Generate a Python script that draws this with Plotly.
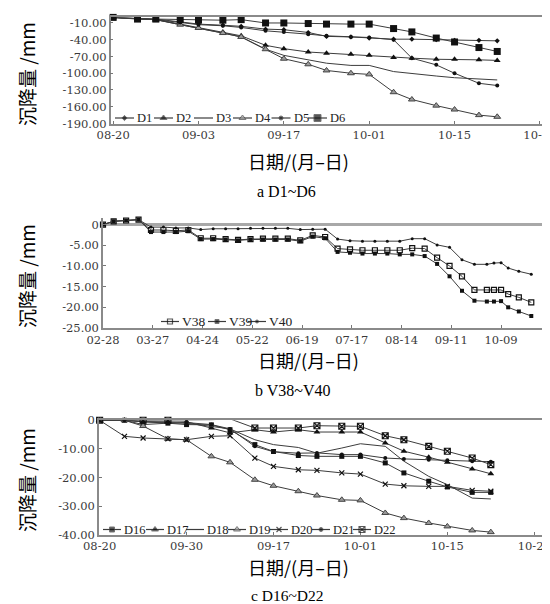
import plotly.graph_objects as go

W, H = 550, 604

# ---------------- panel a : D1~D6 ----------------
dates_a = ["2012-08-20", "2012-08-24", "2012-08-27", "2012-08-31", "2012-09-03", "2012-09-07",
           "2012-09-10", "2012-09-14", "2012-09-17", "2012-09-21", "2012-09-24", "2012-09-28",
           "2012-10-01", "2012-10-05", "2012-10-08", "2012-10-12", "2012-10-15", "2012-10-19",
           "2012-10-22"]
D1 = [0, -2, -3, -8, -12, -14, -16, -21, -22, -27, -34, -35, -37, -39, -39, -40, -41, -41, -42]
D2 = [0, -2, -4, -12, -18, -26, -33, -50, -56, -62, -64, -66, -68, -72, -73, -75, -75, -76, -77]
D3 = [0, -2, -4, -13, -19, -28, -35, -57, -68, -76, -82, -86, -86, -97, -101, -105, -108, -111, -112]
D4 = [0, -2, -4, -13, -19, -28, -35, -57, -74, -84, -95, -100, -102, -134, -147, -158, -165, -175, -178]
D5 = [0, -2, -4, -9, -13, -15, -18, -24, -26, -30, -33, -35, -36, -40, -73, -85, -100, -118, -122]
D6 = [0, -3, -3, -4, -5, -5, -4, -10, -10, -11, -12, -12, -12, -20, -26, -37, -44, -54, -61]

xtick_a_vals = ["2012-08-20", "2012-09-03", "2012-09-17", "2012-10-01", "2012-10-15", "2012-10-29"]
xtick_a_text = ["08-20", "09-03", "09-17", "10-01", "10-15", "10-29"]
ytick_a_vals = [-10, -40, -70, -100, -130, -160, -190]
ytick_a_text = ["-10.00", "-40.00", "-70.00", "-100.00", "-130.00", "-160.00", "-190.00"]

# ---------------- panel b : V38~V40 ----------------
dates_b = ["2012-02-28", "2012-03-05", "2012-03-12", "2012-03-19", "2012-03-26", "2012-04-02",
           "2012-04-09", "2012-04-16", "2012-04-23", "2012-04-30", "2012-05-07", "2012-05-14",
           "2012-05-21", "2012-05-28", "2012-06-04", "2012-06-11", "2012-06-18", "2012-06-25",
           "2012-07-02", "2012-07-09", "2012-07-16", "2012-07-23", "2012-07-30", "2012-08-06",
           "2012-08-13", "2012-08-20", "2012-08-27", "2012-09-03", "2012-09-10", "2012-09-17",
           "2012-09-24", "2012-10-01", "2012-10-05", "2012-10-09", "2012-10-13", "2012-10-19",
           "2012-10-26"]
V38 = [0, 0.8, 1.0, 1.2, -1.3, -1.3, -1.5, -1.3, -3.3, -3.3, -3.5, -3.7, -3.5, -3.4, -3.4, -3.4,
       -3.8, -2.6, -3.0, -5.8, -6.0, -6.2, -6.2, -6.2, -6.2, -5.7, -5.8, -8.0, -10.0, -12.5,
       -15.8, -15.8, -15.8, -15.8, -16.8, -17.6, -18.8]
V39 = [0, 0.8, 1.0, 1.2, -1.8, -1.8, -1.8, -1.6, -3.5, -3.5, -3.6, -3.8, -3.6, -3.6, -3.6, -3.6,
       -4.0, -2.9, -3.3, -6.6, -6.8, -7.0, -7.0, -7.0, -7.2, -7.2, -7.6, -9.5, -12.5, -16.0,
       -18.4, -18.6, -18.6, -18.5, -20.0, -21.0, -22.1]
V40 = [0, 0.8, 1.0, 1.2, -0.6, -0.6, -0.8, -0.8, -1.2, -1.0, -1.0, -1.0, -0.9, -0.9, -0.9, -0.9,
       -1.2, -1.1, -1.1, -3.5, -3.9, -4.0, -4.0, -4.0, -4.0, -3.4, -3.4, -4.9, -5.5, -8.5,
       -9.6, -9.6, -9.3, -9.2, -10.5, -11.3, -12.0]

xtick_b_vals = ["2012-02-28", "2012-03-27", "2012-04-24", "2012-05-22", "2012-06-19",
                "2012-07-17", "2012-08-14", "2012-09-11", "2012-10-09"]
xtick_b_text = ["02-28", "03-27", "04-24", "05-22", "06-19", "07-17", "08-14", "09-11", "10-09"]
ytick_b_vals = [0, -5, -10, -15, -20, -25]
ytick_b_text = ["0", "-5.00", "-10.00", "-15.00", "-20.00", "-25.00"]

# ---------------- panel c : D16~D22 ----------------
dates_c = dates_a
D16 = [0, 0, -1.5, -1, -1.5, -1.6, -3.3, -8.5, -10.9, -12.3, -12.6, -12.6, -12.6, -14.9, -18.4, -21.3, -23.3, -25.2, -25.2]
D17 = [0, 0.2, -0.5, -0.8, -0.5, -2.7, -4.4, -3.3, -4.1, -3.3, -4.1, -4.1, -4.1, -7.9, -10.8, -12.9, -14.7, -17.0, -18.7]
D18 = [0, 0, -0.5, -1, -1, -2, -3, -6.8, -8.5, -9.5, -11.5, -9.7, -8.2, -9.1, -14.3, -19.6, -22.5, -27.2, -27.5]
D19 = [0, 0, -2, -6.5, -6.8, -12.6, -14.7, -20.8, -22.9, -24.8, -26.3, -27.8, -28.0, -32.4, -34.2, -35.9, -37.1, -38.5, -39.1]
D20 = [0, -5.6, -6.2, -6.5, -6.8, -5.6, -5.4, -13.2, -16.1, -17.3, -17.5, -18.4, -18.8, -22.3, -22.9, -23.1, -23.1, -24.5, -24.8]
D21 = [0, 0, -0.5, -0.5, -0.8, -1.5, -3, -9.1, -11, -11.5, -11.4, -12, -12, -13.2, -13.5, -13.8, -14, -14.3, -14.5]
D22 = [0, 0.2, 0, 0, 0.2, 0.2, 0.5, -2.7, -2.7, -2.7, -1.9, -2.1, -2.1, -5.4, -6.8, -9.1, -10.8, -13.2, -15.5]

xtick_c_text = ["08-20", "09-30", "09-17", "10-01", "10-15", "10-29"]
ytick_c_vals = [0, -10, -20, -30, -40]
ytick_c_text = ["0", "-10.00", "-20.00", "-30.00", "-40.00"]

# ---------------- styling ----------------
LINE = "#3c3c3c"
MK = "#111111"
SERIF = "Liberation Serif"
TICKFONT = "DejaVu Serif"
CJK = "Noto Sans CJK SC"

styles_a = {
    "D1": dict(symbol="diamond", size=4),
    "D2": dict(symbol="triangle-up", size=6),
    "D3": None,
    "D4": dict(symbol="triangle-up", size=6, color="#9a9a9a", line=dict(color="#444", width=1)),
    "D5": dict(symbol="circle", size=4),
    "D6": dict(symbol="square", size=7),
}
styles_b = {
    "V38": dict(symbol="square-open", size=5, line=dict(color=MK, width=1.2)),
    "V39": dict(symbol="square", size=4),
    "V40": dict(symbol="circle", size=3),
}
styles_c = {
    "D16": dict(symbol="square", size=5),
    "D17": dict(symbol="triangle-up", size=6),
    "D18": None,
    "D19": dict(symbol="triangle-up", size=6, color="#9a9a9a", line=dict(color="#444", width=1)),
    "D20": dict(symbol="x-thin", size=5, line=dict(color=MK, width=1.2)),
    "D21": dict(symbol="circle", size=4),
    "D22": dict(symbol="square-x-open", size=6, line=dict(color=MK, width=1.1)),
}

series_a = {"D1": D1, "D2": D2, "D3": D3, "D4": D4, "D5": D5, "D6": D6}
series_b = {"V38": V38, "V39": V39, "V40": V40}
series_c = {"D16": D16, "D17": D17, "D18": D18, "D19": D19, "D20": D20, "D21": D21, "D22": D22}

fig = go.Figure()


def add_series(dates, data, styles, xa, ya):
    for name, vals in data.items():
        st = styles[name]
        if st is None:
            fig.add_trace(go.Scatter(x=dates, y=vals, mode="lines", name=name,
                                     line=dict(color=LINE, width=1), xaxis=xa, yaxis=ya,
                                     cliponaxis=False, showlegend=False))
        else:
            m = dict(color=MK)
            m.update(st)
            fig.add_trace(go.Scatter(x=dates, y=vals, mode="lines+markers", name=name,
                                     line=dict(color=LINE, width=1), marker=m,
                                     xaxis=xa, yaxis=ya, cliponaxis=False, showlegend=False))


add_series(dates_a, series_a, styles_a, "x", "y")
add_series(dates_b, series_b, styles_b, "x2", "y2")
add_series(dates_c, series_c, styles_c, "x3", "y3")


# ---------------- manual legends on a pixel overlay axis ----------------
def add_legend(names, styles, starts, y, seg, gap, fsize):
    for name, x0 in zip(names, starts):
        st = styles[name]
        xs = [x0, x0 + seg / 2, x0 + seg]
        ys = [y, y, y]
        if st is None:
            fig.add_trace(go.Scatter(x=xs, y=ys, mode="lines", line=dict(color=LINE, width=1.2),
                                     xaxis="x4", yaxis="y4", showlegend=False, hoverinfo="skip"))
        else:
            m = dict(color=MK)
            m.update(st)
            m["size"] = [0, st["size"], 0]
            fig.add_trace(go.Scatter(x=xs, y=ys, mode="lines+markers", line=dict(color=LINE, width=1.2),
                                     marker=m, xaxis="x4", yaxis="y4", showlegend=False,
                                     hoverinfo="skip"))
        fig.add_annotation(x=x0 + seg + gap, y=y, xref="x4", yref="y4", text=name, showarrow=False,
                           xanchor="left", yanchor="middle",
                           font=dict(family=SERIF, size=fsize, color="#222"))


add_legend(list(series_a), styles_a, [107, 146, 186, 225, 263.5, 300], 110, 19, 1, 12.5)
add_legend(list(series_b), styles_b, [153, 200, 240], 313.5, 18, 1, 13.5)
add_legend(list(series_c), styles_c, [95, 138, 178, 220, 262, 304, 345], 521.5, 18, 1, 12.5)


# ---------------- axes ----------------
def px(x):
    return x / W


def py(y):
    return 1 - y / H


def axis_common(mirror=True):
    return dict(showgrid=False, showline=True, linecolor="#8a8a8a", linewidth=1.5,
                mirror=mirror, ticks="inside", ticklen=3, tickcolor="#777",
                tickfont=dict(family=TICKFONT, size=11.5, color="#3a3a3a"), zeroline=False)


fig.update_layout(
    xaxis=dict(domain=[px(102.7), px(538)], anchor="y", type="date",
               range=["2012-08-19 14:24", "2012-10-30 00:00"],
               tickmode="array", tickvals=xtick_a_vals, ticktext=xtick_a_text, **axis_common()),
    yaxis=dict(domain=[py(115.5), py(9.4)], anchor="x", range=[-190, 0],
               tickmode="array", tickvals=ytick_a_vals, ticktext=ytick_a_text, **axis_common()),
    xaxis2=dict(domain=[px(95), px(537.5)], anchor="y2", type="date",
                range=["2012-02-28", "2012-11-03"],
                tickmode="array", tickvals=xtick_b_vals, ticktext=xtick_b_text,
                **axis_common(mirror=False)),
    yaxis2=dict(domain=[py(320), py(210)], anchor="x2", range=[-25, 1.6],
                tickmode="array", tickvals=ytick_b_vals, ticktext=ytick_b_text, **axis_common()),
    xaxis3=dict(domain=[px(91), px(540)], anchor="y3", type="date",
                range=["2012-08-19 21:36", "2012-10-31 05:00"],
                tickmode="array", tickvals=xtick_a_vals, ticktext=xtick_c_text, **axis_common()),
    yaxis3=dict(domain=[py(526.7), py(412.3)], anchor="x3", range=[-40, 0],
                tickmode="array", tickvals=ytick_c_vals, ticktext=ytick_c_text, **axis_common()),
    xaxis4=dict(domain=[0, 1], anchor="y4", range=[0, W], visible=False, fixedrange=True),
    yaxis4=dict(domain=[0, 1], anchor="x4", range=[H, 0], visible=False, fixedrange=True),
)

# x axis of panel b crosses at 0: thick grey zero line
fig.layout.yaxis2.zeroline = True
fig.layout.yaxis2.zerolinecolor = "#a8a8a8"
fig.layout.yaxis2.zerolinewidth = 2.5

# ---------------- titles / captions ----------------
texts = [
    # (text, x, y, size, family, angle)
    ("沉降量 /mm", 18, 66, 19, CJK, -90),
    ("日期/(月–日)", 290, 153, 18, CJK, 0),
    ("a D1~D6", 278, 183, 16, SERIF, 0),
    ("沉降量 /mm", 18, 268, 19, CJK, -90),
    ("日期/(月–日)", 300, 352, 18, CJK, 0),
    ("b V38~V40", 284, 382, 16, SERIF, 0),
    ("沉降量 /mm", 18, 472, 19, CJK, -90),
    ("日期/(月–日)", 290, 559, 18, CJK, 0),
    ("c D16~D22", 280, 587, 15.5, SERIF, 0),
]
for t, x, y, s, fam, ang in texts:
    fig.add_annotation(x=px(x), y=py(y), xref="paper", yref="paper", text=t, showarrow=False,
                       xanchor="center", yanchor="middle", textangle=ang,
                       font=dict(family=fam, size=s, color="#000000"))

fig.update_layout(
    template="none",
    width=W, height=H,
    margin=dict(l=0, r=0, t=0, b=0, pad=0),
    paper_bgcolor="white",
    plot_bgcolor="rgba(0,0,0,0)",
    showlegend=False,
)

fig.write_html("out.html")
